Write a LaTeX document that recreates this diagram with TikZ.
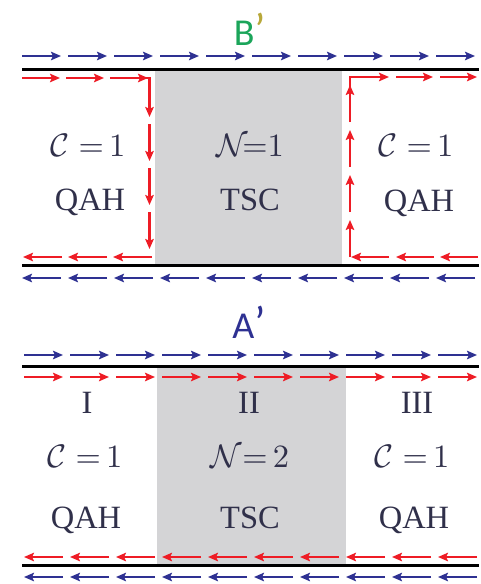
\documentclass[tikz,border=0pt]{standalone}
\usepackage{fontspec}
\setmainfont{Liberation Serif}
\newfontfamily\labfont{Carlito}
\usetikzlibrary{arrows.meta}
\definecolor{eblue}{HTML}{2E3192}
\definecolor{ered}{HTML}{EE1C25}
\definecolor{tscgray}{HTML}{D4D4D6}
\definecolor{txt}{HTML}{30304A}
\definecolor{bgreen}{HTML}{1BA55A}
\definecolor{bgold}{HTML}{B8A83A}
\tikzset{
  edgearrow/.style={line width=2.1pt,-{Stealth[length=10pt,width=8.5pt,inset=2pt]}},
  bluearr/.style={edgearrow,eblue},
  redarr/.style={edgearrow,ered},
  redline/.style={line width=2.1pt,ered},
  boundary/.style={line width=3pt,black},
  tscbox/.style={fill=tscgray,draw=none},
  lbl/.style={text=txt,font=\fontsize{10}{12}\selectfont,scale=3.25,anchor=base,inner sep=0pt},
  title/.style={font=\labfont\fontsize{38}{44}\selectfont,anchor=base,inner sep=0pt}
}
\begin{document}
\begin{tikzpicture}[x=1pt,y=-1pt]
\useasboundingbox (0,0) rectangle (481,584);
% ---------------- top panel (B') ----------------
\fill[tscbox] (155,69) rectangle (342,265);
\node[title] (Btitle) at (250,45) {\textcolor{bgreen}{B}\textcolor{bgold}{\fontsize{46}{50}\selectfont ’}};
\foreach \i in {0,...,9} {
  \pgfmathsetmacro{\xs}{22+46*\i}
  \draw[bluearr] (\xs,56) -- ++(39,0);
  \draw[bluearr] (\xs+39,278) -- ++(-39,0);
}
\draw[boundary] (22,69) -- (479,69);
\draw[boundary] (22,265) -- (479,265);
% left red edge
\foreach \x in {22,66,110} { \draw[redarr] (\x,78) -- ++(38,0); }
\draw[redline] (146,78) -- (149.5,78) -- (149.5,82);
\foreach \y in {80,124,168,212} { \draw[redarr] (149.5,\y) -- ++(0,37); }
\foreach \x in {152,107,62} { \draw[redarr] (\x,257) -- ++(-39,0); }
% right red edge
\foreach \y in {257,212,167,122} { \draw[redarr] (350,\y) -- ++(0,-37); }
\draw[redline] (350,88) -- (350,77) -- (354,77);
\foreach \x in {352,396,440} { \draw[redarr] (\x,77) -- ++(37,0); }
\foreach \x in {389,434,478} { \draw[redarr] (\x,257) -- ++(-38,0); }
% labels
\node[lbl] (c1) at (88,156) {$\mathcal{C}\;{=}\,1$};
\node[lbl] (q1) at (90,210) {QAH};
\node[lbl] (n1) at (250,156) {$\mathcal{N}\!{=}1$};
\node[lbl] (t1) at (250,210) {TSC};
\node[lbl] (c2) at (416,156) {$\mathcal{C}\;{=}\,1$};
\node[lbl] (q2) at (419,211) {QAH};
% ---------------- bottom panel (A') ----------------
\fill[tscbox] (157,366) rectangle (346,565);
\node[title,text=eblue] (Atitle) at (249,338) {A\fontsize{46}{50}\selectfont ’};
\foreach \i in {0,...,9} {
  \pgfmathsetmacro{\xs}{24+46*\i}
  \draw[bluearr] (\xs,355) -- ++(39,0);
  \draw[redarr] (\xs,377) -- ++(39,0);
  \draw[redarr] (\xs+39,557) -- ++(-39,0);
  \draw[bluearr] (\xs+39,577) -- ++(-39,0);
}
\draw[boundary] (22,366) -- (479,366);
\draw[boundary] (22,565) -- (479,565);
\node[lbl] (r1) at (87,413) {I};
\node[lbl] (r2) at (249,413) {II};
\node[lbl] (r3) at (417,413) {III};
\node[lbl] (c3) at (85,467) {$\mathcal{C}\;{=}\,1$};
\node[lbl] (n2) at (250,467) {$\mathcal{N}{=}\,2$};
\node[lbl] (c4) at (412,467) {$\mathcal{C}\;{=}\,1$};
\node[lbl] (q3) at (86,528) {QAH};
\node[lbl] (t2) at (250,528) {TSC};
\node[lbl] (q4) at (414,528) {QAH};
\end{tikzpicture}
\end{document}
